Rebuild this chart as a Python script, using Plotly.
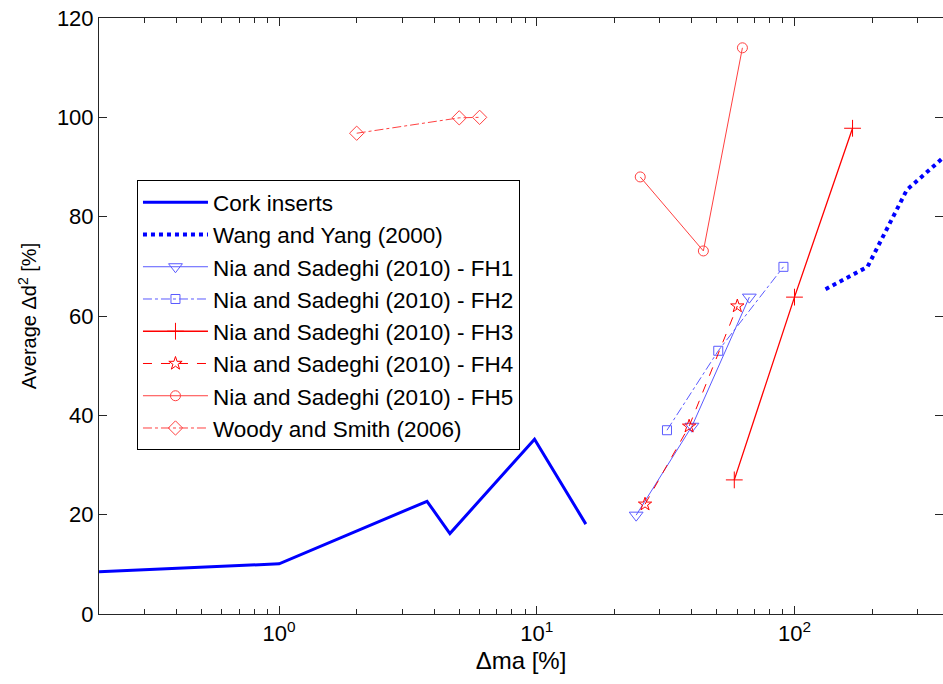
import numpy as np
import plotly.graph_objects as go

# Cork inserts
cork_x = [0.2, 1.0, 3.75, 4.6, 9.8, 15.5]
cork_y = [8.5, 10.1, 22.7, 16.2, 35.2, 18.1]

# Wang and Yang (2000)
wang_x = [132, 192, 273, 420]
wang_y = [65.4, 69.9, 85.4, 94.0]

# Nia and Sadeghi (2010), FH1..FH5
fh1_x = [24.3, 40.0, 66.8]
fh1_y = [19.9, 37.8, 63.8]
fh2_x = [32.0, 50.6, 90.6]
fh2_y = [37.0, 53.0, 69.9]
fh3_x = [58.4, 100.0, 168.0]
fh3_y = [27.0, 63.8, 97.8]
fh4_x = [26.3, 39.0, 60.0]
fh4_y = [22.1, 37.8, 62.0]
fh5_x = [25.2, 44.3, 62.8]
fh5_y = [88.0, 73.1, 114.0]

# Woody and Smith (2006)
woody_x = [2.0, 5.0, 6.0]
woody_y = [96.8, 99.9, 100.0]

decades = [0.1, 1, 10, 100, 1000]
decade_text = ["10<sup>-1</sup>", "10<sup>0</sup>", "10<sup>1</sup>", "10<sup>2</sup>", "10<sup>3</sup>"]
minor_vals = [m * d for d in [0.1, 1, 10, 100] for m in range(2, 10)]

BLUE = "#0000ff"
LBLUE = "#5a5aff"
RED = "#ff0000"
LRED = "#ff4040"

fig = go.Figure()

def add(name, x, y, color, width, dash, symbol=None, msize=10):
    mode = "lines+markers" if symbol else "lines"
    kw = {}
    if symbol:
        kw["marker"] = dict(symbol=symbol, size=msize, color=color,
                            line=dict(color=color, width=1))
    fig.add_trace(go.Scatter(x=x, y=y, mode=mode, name=name,
                             line=dict(color=color, width=width, dash=dash), **kw))

add("Cork inserts", cork_x, cork_y, BLUE, 3, "solid")
add("Wang and Yang (2000)", wang_x, wang_y, BLUE, 4, "dot")
add("Nia and Sadeghi (2010) - FH1", fh1_x, fh1_y, LBLUE, 1, "solid", "triangle-down-open", 12)
add("Nia and Sadeghi (2010) - FH2", fh2_x, fh2_y, LBLUE, 1, "dashdot", "square-open", 9)
add("Nia and Sadeghi (2010) - FH3", fh3_x, fh3_y, RED, 1.3, "solid", "cross-thin-open", 12)
add("Nia and Sadeghi (2010) - FH4", fh4_x, fh4_y, RED, 1, "dash", "star-open", 10)
add("Nia and Sadeghi (2010) - FH5", fh5_x, fh5_y, LRED, 1, "solid", "circle-open", 10)
add("Woody and Smith (2006)", woody_x, woody_y, LRED, 1, "dashdot", "diamond-open", 11)

axis_color = "#262626"
fig.update_layout(
    width=943, height=684,
    margin=dict(l=99, r=0, t=18, b=70),
    paper_bgcolor="white", plot_bgcolor="white",
    font=dict(family="Liberation Sans, Arial, sans-serif", size=20, color="black"),
    showlegend=True,
    legend=dict(x=0.045, y=0.728, xanchor="left", yanchor="top",
                bgcolor="white", bordercolor="black", borderwidth=1,
                font=dict(size=22.5), itemwidth=65, tracegroupgap=0),
    xaxis=dict(type="log", range=[np.log10(0.2), np.log10(377)],
               tickvals=decades, ticktext=decade_text,
               ticks="inside", ticklen=8, tickcolor=axis_color,
               showline=True, linecolor=axis_color, linewidth=1, mirror="ticks",
               showgrid=False, zeroline=False,
               minor=dict(tickvals=minor_vals, ticks="inside", ticklen=5,
                          tickcolor=axis_color, showgrid=False),
               title=dict(text="Δma [%]", font=dict(size=24), standoff=6),
               tickfont=dict(size=22)),
    yaxis=dict(range=[0, 120], tickvals=[0, 20, 40, 60, 80, 100, 120],
               ticks="inside", ticklen=8, tickcolor=axis_color,
               showline=True, linecolor=axis_color, linewidth=1, mirror="ticks",
               showgrid=False, zeroline=False,
               title=dict(text="Average Δd<sup>2</sup> [%]", font=dict(size=20), standoff=14),
               tickfont=dict(size=22)),
)

fig.write_html("out.html")
